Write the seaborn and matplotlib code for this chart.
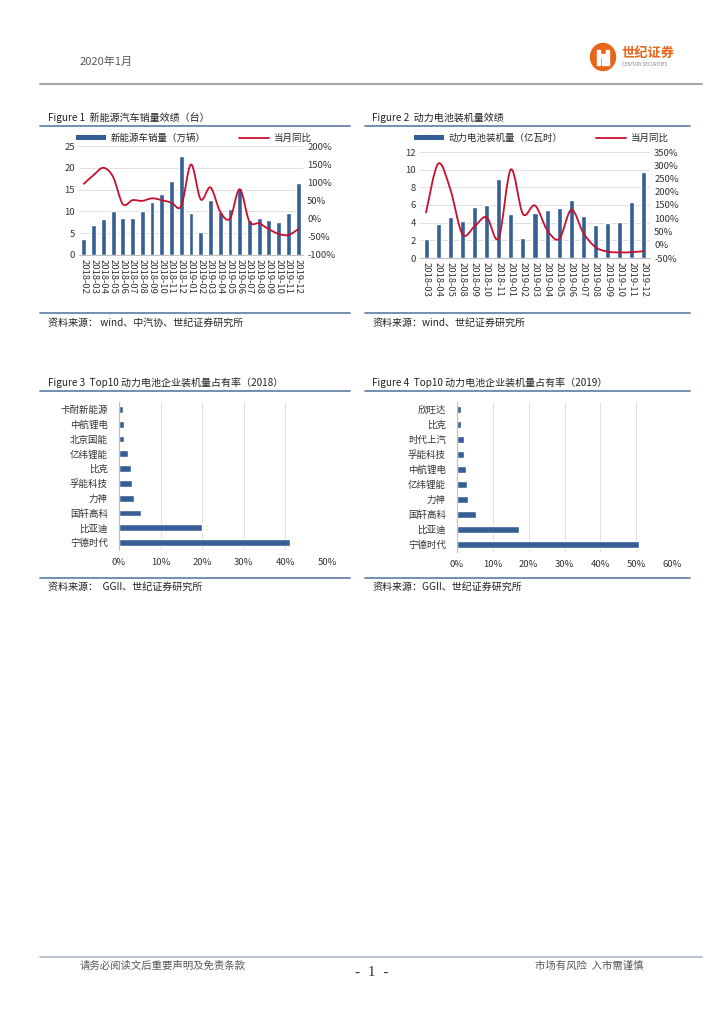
import numpy as np
import pandas as pd
import matplotlib
matplotlib.use('Agg')
import matplotlib.pyplot as plt
import seaborn as sns
from matplotlib.path import Path
from matplotlib.patches import PathPatch, Patch, Ellipse, Rectangle
from matplotlib.lines import Line2D

# ---- data ----
months1 = ['2018-02', '2018-03', '2018-04', '2018-05', '2018-06', '2018-07', '2018-08',
           '2018-09', '2018-10', '2018-11', '2018-12', '2019-01', '2019-02', '2019-03',
           '2019-04', '2019-05', '2019-06', '2019-07', '2019-08', '2019-09', '2019-10',
           '2019-11', '2019-12']
sales1 = [3.6, 6.9, 8.2, 10.2, 8.5, 8.5, 10.2, 12.2, 13.9, 16.9, 22.6, 9.7, 5.3, 12.6,
          9.8, 10.5, 15.3, 8.0, 8.6, 8.0, 7.6, 9.6, 16.4]
yoy1 = [96, 120, 140, 115, 40, 51, 49, 56, 51, 44, 35, 149, 53, 86, 19, 0, 81, -8, -13,
        -29, -42, -45, -29]

months2 = ['2018-03', '2018-04', '2018-05', '2018-08', '2018-09', '2018-10', '2018-11',
           '2019-01', '2019-02', '2019-03', '2019-04', '2019-05', '2019-06', '2019-07',
           '2019-08', '2019-09', '2019-10', '2019-11', '2019-12']
install2 = [2.1, 3.8, 4.6, 4.2, 5.8, 6.0, 8.9, 5.0, 2.3, 5.1, 5.4, 5.7, 6.6, 4.8, 3.7,
            4.0, 4.1, 6.3, 9.7]
yoy2 = [122, 306, 210, 40, 69, 104, 25, 284, 116, 148, 56, 22, 132, 44, -9, -26, -29,
        -28, -24]

names18 = ['卡耐新能源', '中航锂电', '北京国能', '亿纬锂能', '比克', '孚能科技', '力神',
           '国轩高科', '比亚迪', '宁德时代']
share18 = [1.0, 1.1, 1.2, 2.2, 2.9, 3.2, 3.5, 5.4, 20.0, 41.2]

names19 = ['欣旺达', '比克', '时代上汽', '孚能科技', '中航锂电', '亿纬锂能', '力神',
           '国轩高科', '比亚迪', '宁德时代']
share19 = [1.0, 1.0, 1.9, 1.9, 2.4, 2.8, 3.2, 5.4, 17.3, 50.9]

BLUE = '#355F95'
RED = '#C8102E'
GRID = '#d9d9d9'
RULE = '#5B7BA6'
TXT = '#333333'

sns.set_theme(style='white')
plt.rcParams['font.family'] = ['Noto Sans CJK SC', 'DejaVu Sans']
plt.rcParams['axes.unicode_minus'] = False

W, H = 724, 1024
fig = plt.figure(figsize=(7.24, 10.24), dpi=100)


def box(l, t, r, b):
    return [l / W, 1 - b / H, (r - l) / W, (b - t) / H]


def ftext(x, y, s, **kw):
    fig.text(x / W, 1 - y / H, s, **kw)


def hline(x0, x1, y, color, lw):
    fig.add_artist(Line2D([x0 / W, x1 / W], [1 - y / H, 1 - y / H], color=color, lw=lw))


def smooth_line(ax, ys, color=RED, lw=1.3):
    # excel-style smoothed line: cubic bezier through every data point
    xs = np.arange(len(ys), dtype=float)
    ys = np.asarray(ys, dtype=float)
    pts = np.column_stack([xs, ys])
    verts = [pts[0]]
    codes = [Path.MOVETO]
    n = len(pts)
    for i in range(n - 1):
        p0 = pts[max(i - 1, 0)]
        p1 = pts[i]
        p2 = pts[i + 1]
        p3 = pts[min(i + 2, n - 1)]
        c1 = p1 + (p2 - p0) / 6
        c2 = p2 - (p3 - p1) / 6
        verts += [c1, c2, p2]
        codes += [Path.CURVE4] * 3
    ax.add_patch(PathPatch(Path(verts, codes), fill=False, edgecolor=color, lw=lw,
                           capstyle='round', joinstyle='round', zorder=5))


def combo_chart(rect, cats, bars, yoy, ylim, ystep, rlim, rstep, bar_label, bw, leg_xy):
    ax = fig.add_axes(box(*rect))
    df = pd.DataFrame({'month': cats, 'v': bars})
    sns.barplot(data=df, x='month', y='v', color=BLUE, saturation=1, width=bw, ax=ax)
    ax.set_xlim(-0.5, len(cats) - 0.5)
    ax.set_ylim(*ylim)
    ax.set_yticks(np.arange(ylim[0], ylim[1] + 0.01, ystep))
    ax.yaxis.grid(True, color=GRID, lw=0.6)
    ax.set_axisbelow(True)
    ax.set_xlabel('')
    ax.set_ylabel('')
    for s in ['left', 'right', 'top']:
        ax.spines[s].set_visible(False)
    ax.spines['bottom'].set_color('#bfbfbf')
    ax.spines['bottom'].set_linewidth(0.8)
    ax.tick_params(axis='x', rotation=-90, labelsize=6.8, colors=TXT, length=0, pad=3)
    ax.tick_params(axis='y', labelsize=6.8, colors=TXT, length=0, pad=3)
    ax.set_xticks(np.arange(-0.5, len(cats), 1.0), minor=True)
    ax.tick_params(axis='x', which='minor', length=3, color='#bfbfbf', width=0.6)

    ax2 = ax.twinx()
    ax2.set_ylim(*rlim)
    rt = np.arange(rlim[0], rlim[1] + 0.01, rstep)
    ax2.set_yticks(rt)
    ax2.set_yticklabels([f'{int(v)}%' for v in rt])
    ax2.tick_params(axis='y', labelsize=6.8, colors=TXT, length=0, pad=3)
    ax2.grid(False)
    for s in ax2.spines.values():
        s.set_visible(False)
    smooth_line(ax2, yoy)

    handles = [Patch(facecolor=BLUE, edgecolor='none', label=bar_label),
               Line2D([], [], color=RED, lw=1.3, label='当月同比')]
    ax2.legend(handles=handles, loc='center',
               bbox_to_anchor=(leg_xy[0] / W, 1 - leg_xy[1] / H),
               bbox_transform=fig.transFigure, ncol=2,
               frameon=False, fontsize=6.8, handlelength=3.2, handleheight=0.5,
               columnspacing=3.5, borderaxespad=0.0, handletextpad=0.5)
    return ax


def share_chart(rect, names, vals, xmax):
    ax = fig.add_axes(box(*rect))
    df = pd.DataFrame({'name': names, 'v': vals})
    sns.barplot(data=df, x='v', y='name', orient='h', color=BLUE, saturation=1,
                width=0.45, ax=ax)
    ax.set_xlim(0, xmax)
    xt = np.arange(0, xmax + 0.01, 10)
    ax.set_xticks(xt)
    ax.set_xticklabels([f'{int(v)}%' for v in xt])
    ax.xaxis.grid(True, color=GRID, lw=0.6)
    ax.set_axisbelow(True)
    ax.set_xlabel('')
    ax.set_ylabel('')
    for s in ['right', 'top', 'bottom']:
        ax.spines[s].set_visible(False)
    ax.spines['left'].set_color('#bfbfbf')
    ax.spines['left'].set_linewidth(0.8)
    ax.tick_params(axis='x', labelsize=6.8, colors=TXT, length=0, pad=6)
    ax.tick_params(axis='y', labelsize=6.8, colors=TXT, length=0, pad=8)
    ax.set_yticks(np.arange(-0.5, len(names), 1.0), minor=True)
    ax.tick_params(axis='y', which='minor', length=3, color='#bfbfbf', width=0.6)
    return ax


# ---- page header ----
ftext(80, 62, '2020年1月', fontsize=8, color='#595959', va='center')
hline(40, 702, 83.5, '#a6a6a6', 1.5)
fig.add_artist(Ellipse((603 / W, 1 - 57 / H), 25 / W, 27 / H, color='#E8651A'))
for (l, t, w, h) in [(597, 50, 3, 15), (606, 50, 3, 15), (600, 54, 6, 3), (601.5, 58, 3, 7)]:
    fig.add_artist(Rectangle((l / W, 1 - (t + h) / H), w / W, h / H, color='white'))
ftext(621, 53, '世纪证券', fontsize=9.5, color='#E8651A', fontweight='bold', va='center')
ftext(622, 65, 'CENTURY SECURITIES', fontsize=3.2, color='#7f7f7f', va='center')

# ---- Figure 1 ----
ftext(48, 118, 'Figure 1  新能源汽车销量效绩（台）', fontsize=7.2, color='#222222', va='center')
hline(40, 350, 126, RULE, 1.2)
combo_chart((79, 146, 303, 255), months1, sales1, yoy1, (0, 25), 5, (-100, 200), 50,
            '新能源车销量（万辆）', 0.5, (194, 138))
hline(40, 350, 313, RULE, 1.2)
ftext(48, 323, '资料来源： wind、中汽协、世纪证券研究所', fontsize=7.2, color='#222222', va='center')

# ---- Figure 2 ----
ftext(372, 118, 'Figure 2  动力电池装机量效绩', fontsize=7.2, color='#222222', va='center')
hline(365, 690, 126, RULE, 1.2)
combo_chart((420, 152, 650, 258), months2, install2, yoy2, (0, 12), 2, (-50, 350), 50,
            '动力电池装机量（亿瓦时）', 0.42, (541, 138))
hline(365, 690, 313, RULE, 1.2)
ftext(373, 323, '资料来源：wind、世纪证券研究所', fontsize=7.2, color='#222222', va='center')

# ---- Figure 3 ----
ftext(48, 383, 'Figure 3  Top10 动力电池企业装机量占有率（2018）', fontsize=7.2, color='#222222',
      va='center')
hline(40, 350, 391, RULE, 1.2)
share_chart((119, 402, 327, 550), names18, share18, 50)
hline(40, 350, 578, RULE, 1.2)
ftext(48, 587, '资料来源：  GGII、世纪证券研究所', fontsize=7.2, color='#222222', va='center')

# ---- Figure 4 ----
ftext(372, 383, 'Figure 4  Top10 动力电池企业装机量占有率（2019）', fontsize=7.2, color='#222222',
      va='center')
hline(365, 690, 391, RULE, 1.2)
share_chart((457, 402, 672, 552), names19, share19, 60)
hline(365, 690, 578, RULE, 1.2)
ftext(373, 587, '资料来源：GGII、世纪证券研究所', fontsize=7.2, color='#222222', va='center')

# ---- page footer ----
hline(40, 702, 957, '#a9b8cc', 1.2)
ftext(80, 966, '请务必阅读文后重要声明及免责条款', fontsize=7.5, color='#595959', va='center')
ftext(372, 972, '-  1  -', fontsize=11, color='#333333', va='center', ha='center',
      family=['Liberation Serif', 'DejaVu Serif'])
ftext(535, 966, '市场有风险  入市需谨慎', fontsize=7.5, color='#595959', va='center')

fig.savefig('out.png', dpi=100)
